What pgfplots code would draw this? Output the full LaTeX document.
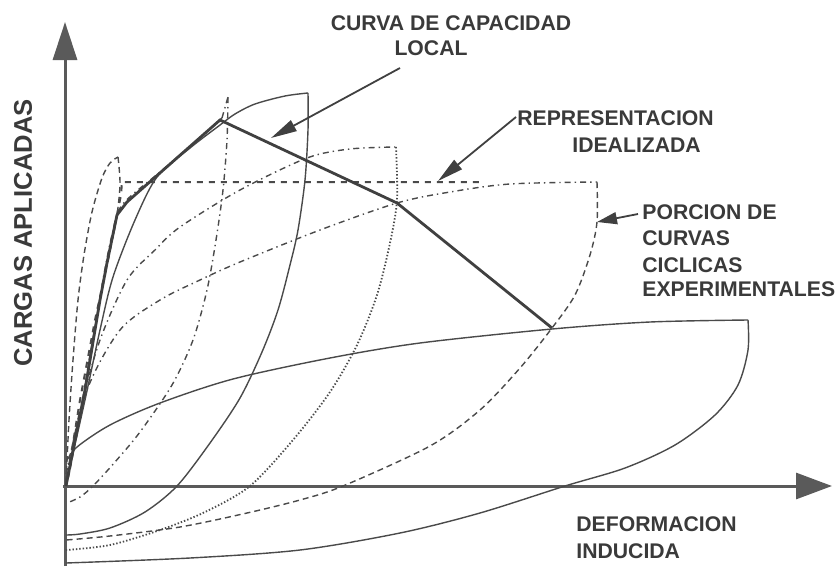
\documentclass[border=0pt]{standalone}
\usepackage{pgfplots}
\pgfplotsset{compat=1.18}
\usepackage{fontspec}
\setmainfont{Liberation Sans}
\usetikzlibrary{arrows.meta}
\definecolor{ink}{HTML}{4A4A4A}
\definecolor{txt}{HTML}{3A3A3A}
\definecolor{axcol}{HTML}{5A5A5A}
\tikzset{lbl/.style={font=\bfseries\fontsize{10.6}{12}\selectfont, text=txt, inner sep=0pt}}

\begin{document}
\begin{tikzpicture}
\path[use as bounding box] (0,0) rectangle (420pt,284pt);
\begin{axis}[
  width=420pt, height=284pt, scale only axis,
  xmin=0, xmax=840, ymin=0, ymax=568, y dir=reverse,
  hide axis, clip=false,
  every axis plot/.append style={color=ink, line width=0.7pt},
]
% ejes
\addplot[axcol, line width=1.5pt, -{Triangle[length=19pt,width=12pt]}] coordinates {(65,566) (65,22)};
\addplot[axcol, line width=1.5pt, -{Triangle[length=18pt,width=13pt]}] coordinates {(63,486) (832,486)};

% lazo A (hoja estrecha)
\addplot[densely dashed, smooth] coordinates {(66,482) (69,420) (73,360) (78,300) (84,255) (92,212) (102,178) (110,163) (118,157)};
\addplot[densely dashed, smooth] coordinates {(118,157) (120,185) (116,222) (108,258) (100,300) (90,355) (80,415) (70,470) (66,486)};

% lazo B
\addplot[dash dot, smooth] coordinates {(66,484) (80,420) (92,350) (103,280) (112,235) (122,205) (160,172) (200,138) (222,118)};
\addplot[dash dot] coordinates {(222,118) (228,97)};
\addplot[dash dot, smooth] coordinates {(228,97) (227,140) (223,190) (216,240) (207,290) (193,340) (172,385) (140,432) (115,462) (93,486) (80,497) (67,503)};

% lazo C
\addplot[smooth] coordinates {(66,484) (85,400) (100,330) (113,277) (135,220) (157,177) (190,148) (220,125) (235,114) (255,104) (285,96) (308,93)};
\addplot[smooth] coordinates {(308,93) (308,130) (305,180) (298,230) (290,265) (278,310) (262,352) (240,398) (210,443) (177,486) (145,512) (110,528) (80,534) (66,535)};

% lazo D
\addplot[dash dot, smooth] coordinates {(66,480) (80,410) (100,340) (127,280) (155,250) (180,227) (240,190) (307,158) (350,149) (396,147)};
\addplot[densely dotted, line width=0.9pt, smooth] coordinates {(396,147) (397,200) (390,243) (377,295) (357,345) (330,392) (293,440) (250,486) (205,512) (160,530) (110,545) (66,550)};

% lazo E
\addplot[dash dot, smooth] coordinates {(66,474) (87,390) (120,330) (160,300) (200,280) (240,262) (320,230) (397,203) (450,192) (510,184) (597,182)};
\addplot[densely dashed, smooth] coordinates {(597,182) (597,222) (590,255) (575,295) (552,328) (520,368) (480,410) (430,446) (343,486) (300,500) (247,513) (180,527) (110,536) (66,540)};

% lazo F
\addplot[smooth] coordinates {(66,462) (77,447) (110,425) (160,403) (233,379) (330,358) (420,343) (552,329) (650,322) (748,320)};
\addplot[smooth] coordinates {(748,320) (748,350) (738,385) (715,415) (675,445) (625,468) (565,486) (480,513) (400,533) (300,550) (190,558) (66,563)};

% representacion idealizada
\addplot[dashed, line width=1pt] coordinates {(66,486) (80,400) (95,320) (108,260) (117,215) (121,195) (122,182) (480,182)};

% curva de capacidad local
\addplot[line width=1.4pt, color=black!75] coordinates {(66,486) (85,390) (100,300) (107,263) (117,215) (127,202) (220,120) (397,203) (552,328)};

% flechas
\addplot[line width=0.9pt, color=black!75, -{Triangle[length=13pt,width=6pt]}] coordinates {(400,68) (271,138)};
\addplot[line width=0.9pt, color=black!75, -{Triangle[length=13pt,width=6pt]}] coordinates {(516,117) (438,181)};
\addplot[line width=0.9pt, color=black!75, -{Triangle[length=10pt,width=6pt]}] coordinates {(638,214) (597,222)};

% textos
\node[lbl, anchor=center] at (axis cs:451,23) {CURVA DE CAPACIDAD};
\node[lbl, anchor=center] at (axis cs:431,48) {LOCAL};
\node[lbl, anchor=west] at (axis cs:517,118) {REPRESENTACION};
\node[lbl, anchor=west] at (axis cs:572,145) {IDEALIZADA};
\node[lbl, anchor=west] at (axis cs:642,212) {PORCION DE};
\node[lbl, anchor=west] at (axis cs:642,238) {CURVAS};
\node[lbl, anchor=west] at (axis cs:642,265) {CICLICAS};
\node[lbl, anchor=west] at (axis cs:642,289) {EXPERIMENTALES};
\node[lbl, anchor=west] at (axis cs:576,524) {DEFORMACION};
\node[lbl, anchor=west] at (axis cs:576,551) {INDUCIDA};
\node[font=\bfseries\fontsize{12.8}{15}\selectfont, text=txt, inner sep=0pt, rotate=90] at (axis cs:23,233) {CARGAS APLICADAS};
\end{axis}
\end{tikzpicture}
\end{document}
